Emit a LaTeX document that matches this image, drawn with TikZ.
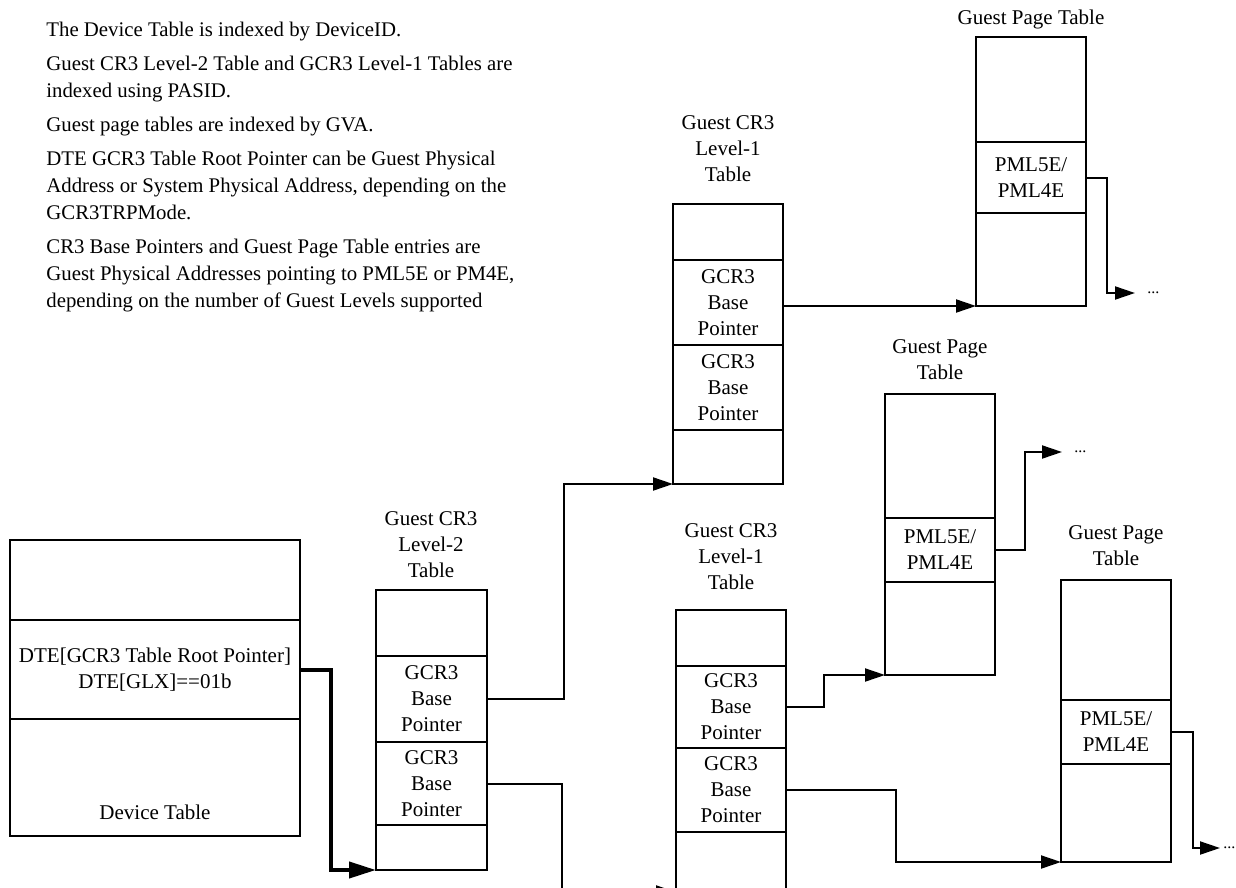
\documentclass[tikz,border=0pt]{standalone}
\usepackage{fontspec}
\setmainfont{Liberation Serif}
\usetikzlibrary{arrows.meta, positioning}

\begin{document}
\begin{tikzpicture}[x=0.5pt, y=-0.5pt, align=center, font=\fontsize{10.5}{13}\selectfont]
  \tikzstyle{cell} = [rectangle, draw, line width=1pt, outer sep=0pt, inner sep=0pt, minimum width=55pt]
  \tikzstyle{title} = [inner sep=0pt]
  \tikzstyle{arrow} = [-{Triangle[length=10pt, width=6.5pt]}, line width=1pt]
  \tikzstyle{bigarrow} = [-{Triangle[length=13.5pt, width=8pt]}, line width=2pt]
  \tikzstyle{more} = [inner sep=0pt, font=\fontsize{8}{10}\selectfont]

  \useasboundingbox (0,0) rectangle (1236,888);

  \node[anchor=north west, align=left, inner sep=0pt, font=\fontsize{10.4}{13.5}\selectfont] (notes) at (46,22)
    {The Device Table is indexed by DeviceID.\\[3.5pt]
     Guest CR3 Level-2 Table and GCR3 Level-1 Tables are\\
     indexed using PASID.\\[3.5pt]
     Guest page tables are indexed by GVA.\\[3.5pt]
     DTE GCR3 Table Root Pointer can be Guest Physical\\
     Address or System Physical Address, depending on the\\
     GCR3TRPMode.\\[3.5pt]
     CR3 Base Pointers and Guest Page Table entries are\\
     Guest Physical Addresses pointing to PML5E or PM4E,\\
     depending on the number of Guest Levels supported};

  \node[cell, minimum width=145pt, minimum height=40pt, anchor=north west] (dev1) at (10,540) {};
  \node[cell, minimum width=145pt, minimum height=49.5pt, below=0pt of dev1] (dev2) {DTE[GCR3 Table Root Pointer]\\DTE[GLX]==01b};
  \node[cell, minimum width=145pt, minimum height=58.5pt, below=0pt of dev2] (dev3) {};
  \node[title] (devname) at ([yshift=12pt]dev3.south) {Device Table};

  \node[title] (l2title) at (431,545) {Guest CR3\\Level-2\\Table};
  \node[cell, minimum width=55.5pt, minimum height=33pt, anchor=north west] (l2a) at (376,590) {};
  \node[cell, minimum width=55.5pt, minimum height=43pt, below=0pt of l2a] (l2b) {GCR3\\Base\\Pointer};
  \node[cell, minimum width=55.5pt, minimum height=41.5pt, below=0pt of l2b] (l2c) {GCR3\\Base\\Pointer};
  \node[cell, minimum width=55.5pt, minimum height=22.5pt, below=0pt of l2c] (l2d) {};

  \node[title] (l1toptitle) at (728,149) {Guest CR3\\Level-1\\Table};
  \node[cell, minimum height=28pt, anchor=north west] (l1top1) at (673,204) {};
  \node[cell, minimum height=42.5pt, below=0pt of l1top1] (l1top2) {GCR3\\Base\\Pointer};
  \node[cell, minimum height=42.5pt, below=0pt of l1top2] (l1top3) {GCR3\\Base\\Pointer};
  \node[cell, minimum height=27pt, below=0pt of l1top3] (l1top4) {};

  \node[title] (l1bottitle) at (731,557) {Guest CR3\\Level-1\\Table};
  \node[cell, minimum height=28pt, anchor=north west] (l1bot1) at (676,610) {};
  \node[cell, minimum height=41pt, below=0pt of l1bot1] (l1bot2) {GCR3\\Base\\Pointer};
  \node[cell, minimum height=42pt, below=0pt of l1bot2] (l1bot3) {GCR3\\Base\\Pointer};
  \node[cell, minimum height=30pt, below=0pt of l1bot3] (l1bot4) {};

  \node[title] (pgtoptitle) at (1031,19) {Guest Page Table};
  \node[cell, minimum height=52.5pt, anchor=north west] (pgtop1) at (976,37) {};
  \node[cell, minimum height=35.5pt, below=0pt of pgtop1] (pgtop2) {PML5E/\\PML4E};
  \node[cell, minimum height=46.5pt, below=0pt of pgtop2] (pgtop3) {};

  \node[title] (pgmidtitle) at (940,360) {Guest Page\\Table};
  \node[cell, minimum height=62pt, anchor=north west] (pgmid1) at (885,394) {};
  \node[cell, minimum height=32pt, below=0pt of pgmid1] (pgmid2) {PML5E/\\PML4E};
  \node[cell, minimum height=46.5pt, below=0pt of pgmid2] (pgmid3) {};

  \node[title] (pgbottitle) at (1116,546) {Guest Page\\Table};
  \node[cell, minimum height=60pt, anchor=north west] (pgbot1) at (1061,580) {};
  \node[cell, minimum height=32pt, below=0pt of pgbot1] (pgbot2) {PML5E/\\PML4E};
  \node[cell, minimum height=49pt, below=0pt of pgbot2] (pgbot3) {};

  \coordinate (endtop) at (1135,293);
  \coordinate (endmid) at (1062,452);
  \coordinate (endbot) at (1220,848);
  \node[more, right=6pt of endtop] (dotstop) {...};
  \node[more, right=6pt of endmid] (dotsmid) {...};
  \node[more, right=1.5pt of endbot] (dotsbot) {...};

  \draw[bigarrow] (dev2.east) -- ++(31,0) |- (l2d.south west);
  \draw[arrow] (l2b.east) -- ++(77,0) |- (l1top4.south west);
  \draw[arrow] (l2c.east) -- ++(75,0) |- (l1bot4.south west);
  \draw[arrow] (l1top2.east |- pgtop3.south west) -- (pgtop3.south west);
  \draw[arrow] (l1bot2.east) -- ++(38,0) |- (pgmid3.south west);
  \draw[arrow] (l1bot3.east) -- ++(110,0) |- (pgbot3.south west);
  \draw[arrow] (pgtop2.east) -- ++(21,0) |- (endtop);
  \draw[arrow] (pgmid2.east) -- ++(30,0) |- (endmid);
  \draw[arrow] (pgbot2.east) -- ++(22,0) |- (endbot);
\end{tikzpicture}
\end{document}
